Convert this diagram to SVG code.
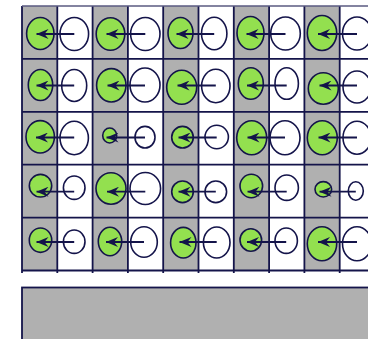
<svg xmlns="http://www.w3.org/2000/svg" width="368" height="339" viewBox="0 0 368 339">
<defs>
<style>
.g{fill:#b0b0b0}
.gl{stroke:#14144a;stroke-width:1.8;fill:none}
.gn{fill:#93e04f;stroke:#14144a;stroke-width:1.6}
.wt{fill:#ffffff;stroke:#14144a;stroke-width:1.6}
.c{stroke:#14144a;stroke-width:1.8;fill:none;marker-end:url(#ah)}
</style>
<marker id="ah" viewBox="0 0 12 10" refX="12" refY="5" markerWidth="12" markerHeight="10" markerUnits="userSpaceOnUse" orient="auto">
<path d="M0,0 L12,5 L0,10 L4,5 z" fill="#14144a"/>
</marker>
</defs>
<rect width="368" height="339" fill="#ffffff"/>
<g id="background">
<rect class="g" x="22" y="6" width="35.3" height="264.5"/>
<rect class="g" x="92.6" y="6" width="35.3" height="264.5"/>
<rect class="g" x="163.2" y="6" width="35.3" height="264.5"/>
<rect class="g" x="233.8" y="6" width="35.3" height="264.5"/>
<rect class="g" x="304.4" y="6" width="35.3" height="264.5"/>
<rect x="22" y="287.5" width="360" height="70" fill="#b0b0b0" stroke="#14144a" stroke-width="1.8"/>
</g>
<g id="grid">
<path class="gl" d="M22,6V273 M57.3,6V273 M92.6,6V273 M127.9,6V273 M163.2,6V273 M198.5,6V273 M233.8,6V273 M269.1,6V273 M304.4,6V273 M339.7,6V273"/>
<path class="gl" d="M22,58.9H368 M22,111.8H368 M22,164.7H368 M22,217.6H368 M22,270.5H368"/>
<path d="M22,6H368" stroke="#5a5a80" stroke-width="1.6" fill="none"/>
</g>
<g id="nodes">
<g id="r1c0"><ellipse class="gn" cx="40.3" cy="33.5" rx="13.7" ry="16"/></g>
<g id="r1c1"><ellipse class="wt" cx="74.3" cy="34" rx="14.3" ry="16.5"/></g>
<g id="r1c2"><ellipse class="gn" cx="110.5" cy="34" rx="14.3" ry="16.3"/></g>
<g id="r1c3"><ellipse class="wt" cx="145.3" cy="34" rx="14.7" ry="16.5"/></g>
<g id="r1c4"><ellipse class="gn" cx="180.5" cy="33" rx="12.5" ry="15.5"/></g>
<g id="r1c5"><ellipse class="wt" cx="214.2" cy="33.5" rx="12.7" ry="16.3"/></g>
<g id="r1c6"><ellipse class="gn" cx="250.5" cy="33" rx="13.5" ry="16.5"/></g>
<g id="r1c7"><ellipse class="wt" cx="285.5" cy="33.5" rx="14.8" ry="16.5"/></g>
<g id="r1c8"><ellipse class="gn" cx="322" cy="33" rx="14.7" ry="17.5"/></g>
<g id="r1c9"><ellipse class="wt" cx="357" cy="33.5" rx="14.5" ry="16.5"/></g>

<g id="r2c0"><ellipse class="gn" cx="40.5" cy="85" rx="12.2" ry="15.5"/></g>
<g id="r2c1"><ellipse class="wt" cx="74.2" cy="85.5" rx="12.5" ry="16"/></g>
<g id="r2c2"><ellipse class="gn" cx="111.3" cy="85.3" rx="14.7" ry="16.7"/></g>
<g id="r2c3"><ellipse class="wt" cx="145" cy="85" rx="15" ry="17"/></g>
<g id="r2c4"><ellipse class="gn" cx="181.7" cy="87.2" rx="15" ry="17"/></g>
<g id="r2c5"><ellipse class="wt" cx="215.8" cy="86" rx="14.2" ry="16.7"/></g>
<g id="r2c6"><ellipse class="gn" cx="250.8" cy="83.5" rx="12.5" ry="15.8"/></g>
<g id="r2c7"><ellipse class="wt" cx="286.7" cy="83.5" rx="11.7" ry="15.8"/></g>
<g id="r2c8"><ellipse class="gn" cx="323.3" cy="88.5" rx="15" ry="15.8"/></g>
<g id="r2c9"><ellipse class="wt" cx="357" cy="87" rx="14" ry="16"/></g>

<g id="r3c0"><ellipse class="gn" cx="40.2" cy="136.8" rx="14.2" ry="16.2"/></g>
<g id="r3c1"><ellipse class="wt" cx="74.2" cy="138" rx="14.2" ry="16.7"/></g>
<g id="r3c2"><ellipse class="gn" cx="109.7" cy="135.5" rx="7" ry="7.5"/></g>
<g id="r3c3"><ellipse class="wt" cx="145" cy="137.2" rx="10" ry="10.8"/></g>
<g id="r3c4"><ellipse class="gn" cx="182.5" cy="137.2" rx="10.8" ry="10.8"/></g>
<g id="r3c5"><ellipse class="wt" cx="216.7" cy="137" rx="11.7" ry="11.7"/></g>
<g id="r3c6"><ellipse class="gn" cx="251.7" cy="137.7" rx="15" ry="17"/></g>
<g id="r3c7"><ellipse class="wt" cx="285" cy="137.7" rx="15" ry="17"/></g>
<g id="r3c8"><ellipse class="gn" cx="322.3" cy="137.7" rx="15" ry="17"/></g>
<g id="r3c9"><ellipse class="wt" cx="357" cy="137.7" rx="14" ry="16.5"/></g>

<g id="r4c0"><ellipse class="gn" cx="40.5" cy="185.7" rx="11.2" ry="11.3"/></g>
<g id="r4c1"><ellipse class="wt" cx="74.2" cy="187.7" rx="10.8" ry="11.7"/></g>
<g id="r4c2"><ellipse class="gn" cx="111" cy="188.5" rx="15" ry="15.8"/></g>
<g id="r4c3"><ellipse class="wt" cx="145.3" cy="188.5" rx="15.3" ry="16"/></g>
<g id="r4c4"><ellipse class="gn" cx="182.5" cy="191.8" rx="10.8" ry="10.8"/></g>
<g id="r4c5"><ellipse class="wt" cx="215.8" cy="191.8" rx="10.8" ry="10.8"/></g>
<g id="r4c6"><ellipse class="gn" cx="251.3" cy="186" rx="11.3" ry="11.7"/></g>
<g id="r4c7"><ellipse class="wt" cx="286.7" cy="187.7" rx="11.7" ry="12.7"/></g>
<g id="r4c8"><ellipse class="gn" cx="323.3" cy="189.3" rx="8.3" ry="7.7"/></g>
<g id="r4c9"><ellipse class="wt" cx="355.8" cy="191" rx="7.5" ry="9.3"/></g>

<g id="r5c0"><ellipse class="gn" cx="40.5" cy="240.2" rx="11.2" ry="12.2"/></g>
<g id="r5c1"><ellipse class="wt" cx="74.2" cy="241.7" rx="10.8" ry="11.7"/></g>
<g id="r5c2"><ellipse class="gn" cx="110" cy="241.5" rx="11.7" ry="14.2"/></g>
<g id="r5c3"><ellipse class="wt" cx="144" cy="242" rx="13.3" ry="15.3"/></g>
<g id="r5c4"><ellipse class="gn" cx="183.3" cy="242.7" rx="12.7" ry="15.3"/></g>
<g id="r5c5"><ellipse class="wt" cx="216.7" cy="242.5" rx="13.3" ry="15.5"/></g>
<g id="r5c6"><ellipse class="gn" cx="250.8" cy="240" rx="10.8" ry="11.2"/></g>
<g id="r5c7"><ellipse class="wt" cx="286.2" cy="240.7" rx="11.2" ry="12.7"/></g>
<g id="r5c8"><ellipse class="gn" cx="322" cy="243.7" rx="14.7" ry="17"/></g>
<g id="r5c9"><ellipse class="wt" cx="357" cy="243.7" rx="14.5" ry="17"/></g>
</g>
<g id="connectors">
<path class="c" d="M74.3,34H36.5"/>
<path class="c" d="M145.3,34H106.5"/>
<path class="c" d="M214.2,34H176.5"/>
<path class="c" d="M285.5,34H246.5"/>
<path class="c" d="M357,34H318"/>

<path class="c" d="M74.2,85.5H36.5"/>
<path class="c" d="M145,85.5H107.5"/>
<path class="c" d="M215.8,85.5H177.5"/>
<path class="c" d="M286.7,85.5H247"/>
<path class="c" d="M357,85.5H319.5"/>

<path class="c" d="M74.2,137.5H36"/>
<path class="c" d="M145,137.5H106.5"/>
<path class="c" d="M216.7,137.5H178.5"/>
<path class="c" d="M285,137.5H247.5"/>
<path class="c" d="M357,137.5H318.5"/>

<path class="c" d="M74.2,191.7H36.5"/>
<path class="c" d="M145.3,191.7H107"/>
<path class="c" d="M215.8,191.7H178.5"/>
<path class="c" d="M286.7,191.7H247.5"/>
<path class="c" d="M355.8,191.7H319.5"/>

<path class="c" d="M74.2,242H36.5"/>
<path class="c" d="M144,242H106"/>
<path class="c" d="M216.7,242H179.5"/>
<path class="c" d="M286.2,242H247"/>
<path class="c" d="M357,242H318"/>
</g>
</svg>
